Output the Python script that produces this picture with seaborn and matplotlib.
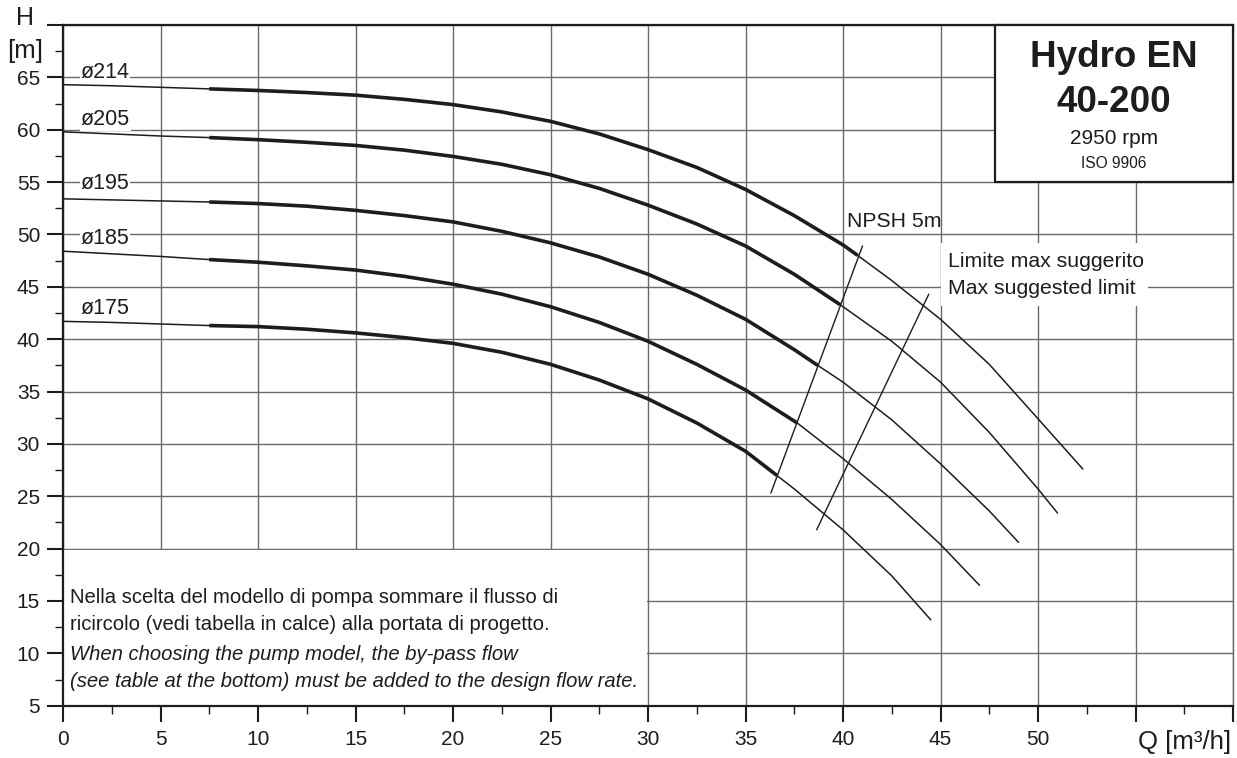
import matplotlib
matplotlib.use("Agg")
import matplotlib.pyplot as plt
from matplotlib.patches import Rectangle
from matplotlib.ticker import FixedLocator, MultipleLocator, NullFormatter
import pandas as pd
import seaborn as sns

# Head curves H [m] vs flow Q [m3/h] for each impeller diameter
diameters = ["ø214", "ø205", "ø195", "ø185", "ø175"]

q_214 = [0, 2.5, 5, 7.5, 10, 12.5, 15, 17.5, 20, 22.5, 25, 27.5, 30, 32.5, 35, 37.5, 40,
         40.75, 42.5, 45, 47.5, 50, 52.3]
h_214 = [64.3, 64.2, 64.05, 63.9, 63.75, 63.55, 63.3, 62.9, 62.4, 61.7, 60.8, 59.6, 58.1,
         56.4, 54.3, 51.8, 49.0, 48.0, 45.6, 41.9, 37.6, 32.4, 27.6]

q_205 = [0, 2.5, 5, 7.5, 10, 12.5, 15, 17.5, 20, 22.5, 25, 27.5, 30, 32.5, 35, 37.5,
         39.85, 42.5, 45, 47.5, 50, 51.0]
h_205 = [59.8, 59.6, 59.4, 59.25, 59.05, 58.8, 58.5, 58.05, 57.45, 56.7, 55.7, 54.4, 52.8,
         51.0, 48.9, 46.2, 43.3, 39.8, 35.9, 31.1, 25.7, 23.4]

q_195 = [0, 2.5, 5, 7.5, 10, 12.5, 15, 17.5, 20, 22.5, 25, 27.5, 30, 32.5, 35, 37.5, 38.7,
         40, 42.5, 45, 47.5, 49.0]
h_195 = [53.4, 53.3, 53.2, 53.1, 52.95, 52.7, 52.3, 51.8, 51.2, 50.3, 49.2, 47.85, 46.2,
         44.2, 41.9, 39.0, 37.5, 35.9, 32.3, 28.1, 23.6, 20.6]

q_185 = [0, 2.5, 5, 7.5, 10, 12.5, 15, 17.5, 20, 22.5, 25, 27.5, 30, 32.5, 35, 37.65, 40,
         42.5, 45, 47.0]
h_185 = [48.4, 48.15, 47.9, 47.6, 47.35, 47.0, 46.6, 46.0, 45.25, 44.3, 43.1, 41.6, 39.8,
         37.6, 35.15, 32.0, 28.6, 24.7, 20.4, 16.5]

q_175 = [0, 2.5, 5, 7.5, 10, 12.5, 15, 17.5, 20, 22.5, 25, 27.5, 30, 32.5, 35, 36.6, 37.5,
         40, 42.5, 44.5]
h_175 = [41.7, 41.6, 41.45, 41.3, 41.2, 40.95, 40.6, 40.15, 39.6, 38.75, 37.6, 36.1, 34.3,
         32.0, 29.3, 27.0, 25.7, 21.8, 17.4, 13.2]

curves_q = [q_214, q_205, q_195, q_185, q_175]
curves_h = [h_214, h_205, h_195, h_185, h_175]

# Recommended working range (bold): from Q = 7.5 up to the NPSH 5 m line
q_bold_start = 7.5
q_bold_end = [40.75, 39.85, 38.7, 37.65, 36.6]

# Diameter label positions (Q, H)
label_q = [0.9, 0.9, 0.9, 0.9, 0.9]
label_h = [65.5, 61.0, 54.85, 49.6, 42.95]

# NPSH 5 m line and suggested max limit line
npsh_q = [36.3, 41.0]
npsh_h = [25.3, 48.9]
limit_q = [38.65, 44.4]
limit_h = [21.8, 44.3]

x_ticks = list(range(0, 61, 5))
x_labels = [str(v) for v in range(0, 51, 5)] + ["", ""]
y_ticks = list(range(5, 71, 5))
y_labels = [str(v) for v in range(5, 66, 5)] + [""]

note_lines = [
    "Nella scelta del modello di pompa sommare il flusso di",
    "ricircolo (vedi tabella in calce) alla portata di progetto.",
    "When choosing the pump model, the by-pass flow",
    "(see table at the bottom) must be added to the design flow rate.",
]

sns.set_theme(style="white")
plt.rcParams["font.family"] = ["Liberation Sans", "DejaVu Sans"]

ink = "#1e1c1d"
grid_c = "#6a6a6a"

fig = plt.figure(figsize=(12.37, 7.58), dpi=100)
fig.patch.set_facecolor("white")
ax = fig.add_axes([63 / 1237, (758 - 705.7) / 758, (1233 - 63) / 1237, (705.7 - 25) / 758])
ax.set_facecolor("white")

ax.set_xlim(0, 60)
ax.set_ylim(5, 70)

# grid
ax.set_axisbelow(True)
ax.grid(True, which="major", color=grid_c, lw=1.0)

ax.xaxis.set_major_locator(FixedLocator(x_ticks))
ax.set_xticklabels(x_labels)
ax.yaxis.set_major_locator(FixedLocator(y_ticks))
ax.set_yticklabels(y_labels)
ax.xaxis.set_minor_locator(MultipleLocator(2.5))
ax.yaxis.set_minor_locator(MultipleLocator(2.5))
ax.xaxis.set_minor_formatter(NullFormatter())
ax.yaxis.set_minor_formatter(NullFormatter())

ax.tick_params(axis="both", which="major", direction="out", length=11.5, width=1.5,
               color=ink, labelsize=15, labelcolor=ink)
ax.tick_params(axis="both", which="minor", direction="out", length=5.5, width=1.0, color=ink)
ax.tick_params(axis="x", which="major", pad=6)
ax.tick_params(axis="y", which="major", pad=5)
ax.tick_params(axis="both", which="both", bottom=True, left=True, top=False, right=False)

for side in ["left", "bottom", "top"]:
    ax.spines[side].set_color(ink)
    ax.spines[side].set_linewidth(1.6)
ax.spines["right"].set_color(grid_c)
ax.spines["right"].set_linewidth(1.0)

# white panels over the grid (note area and limit label)
ax.add_patch(Rectangle((0, 5), 29.93, 14.85, facecolor="white", edgecolor="none", zorder=1))
ax.add_patch(Rectangle((45.05, 43.2), 10.6, 6.0, facecolor="white", edgecolor="none", zorder=1))

# pump curves: thin full curve, bold working range
for name, q, h, q_end in zip(diameters, curves_q, curves_h, q_bold_end):
    df = pd.DataFrame({"Q": q, "H": h})
    sns.lineplot(data=df, x="Q", y="H", ax=ax, color=ink, lw=1.1, estimator=None,
                 sort=False, zorder=3, solid_joinstyle="round")
    bold = df[(df["Q"] >= q_bold_start) & (df["Q"] <= q_end)]
    sns.lineplot(data=bold, x="Q", y="H", ax=ax, color=ink, lw=2.6, estimator=None,
                 sort=False, zorder=4, solid_capstyle="butt", solid_joinstyle="round")

sns.lineplot(x=npsh_q, y=npsh_h, ax=ax, color=ink, lw=1.0, estimator=None, sort=False, zorder=3)
sns.lineplot(x=limit_q, y=limit_h, ax=ax, color=ink, lw=1.0, estimator=None, sort=False, zorder=3)

ax.set_xlabel("")
ax.set_ylabel("")

for name, lq, lh in zip(diameters, label_q, label_h):
    ax.text(lq, lh, name, fontsize=15.5, color=ink, ha="left", va="center", zorder=5,
            bbox=dict(facecolor="white", edgecolor="none", pad=0.6))

ax.text(40.2, 51.2, "NPSH 5m", fontsize=15.3, color=ink, ha="left", va="center", zorder=5)
ax.text(45.4, 47.45, "Limite max suggerito", fontsize=15.3, color=ink, ha="left", va="center", zorder=5)
ax.text(45.4, 44.85, "Max suggested limit", fontsize=15.3, color=ink, ha="left", va="center", zorder=5)

note_y = [15.3, 12.75, 9.9, 7.35]
note_style = ["normal", "normal", "italic", "italic"]
for line, ny, st in zip(note_lines, note_y, note_style):
    ax.text(0.38, ny, line, fontsize=14.6, style=st, color=ink, ha="left", va="center", zorder=5)

# model box
ax.add_patch(Rectangle((47.8, 55), 12.2, 15, facecolor="white", edgecolor=ink, lw=1.6,
                       zorder=6, clip_on=False))
ax.text(53.9, 66.03, "Hydro EN", fontsize=26.5, fontweight="bold", color=ink,
        ha="center", va="baseline", zorder=7)
ax.text(53.9, 61.73, "40-200", fontsize=26.5, fontweight="bold", color=ink,
        ha="center", va="baseline", zorder=7)
ax.text(53.9, 58.65, "2950 rpm", fontsize=15, color=ink, ha="center", va="baseline", zorder=7)
ax.text(53.9, 56.33, "ISO 9906", fontsize=11.2, color=ink, ha="center", va="baseline", zorder=7)

# axis titles
fig.text(25 / 1237, 1 - 18 / 758, "H", fontsize=18, color=ink, ha="center", va="center")
fig.text(25 / 1237, 1 - 51 / 758, "[m]", fontsize=18.5, color=ink, ha="center", va="center")
fig.text(1185 / 1237, 1 - 742 / 758, "Q [m³/h]", fontsize=18.5, color=ink, ha="center", va="center")

fig.savefig("out.png", dpi=100, facecolor="white")
